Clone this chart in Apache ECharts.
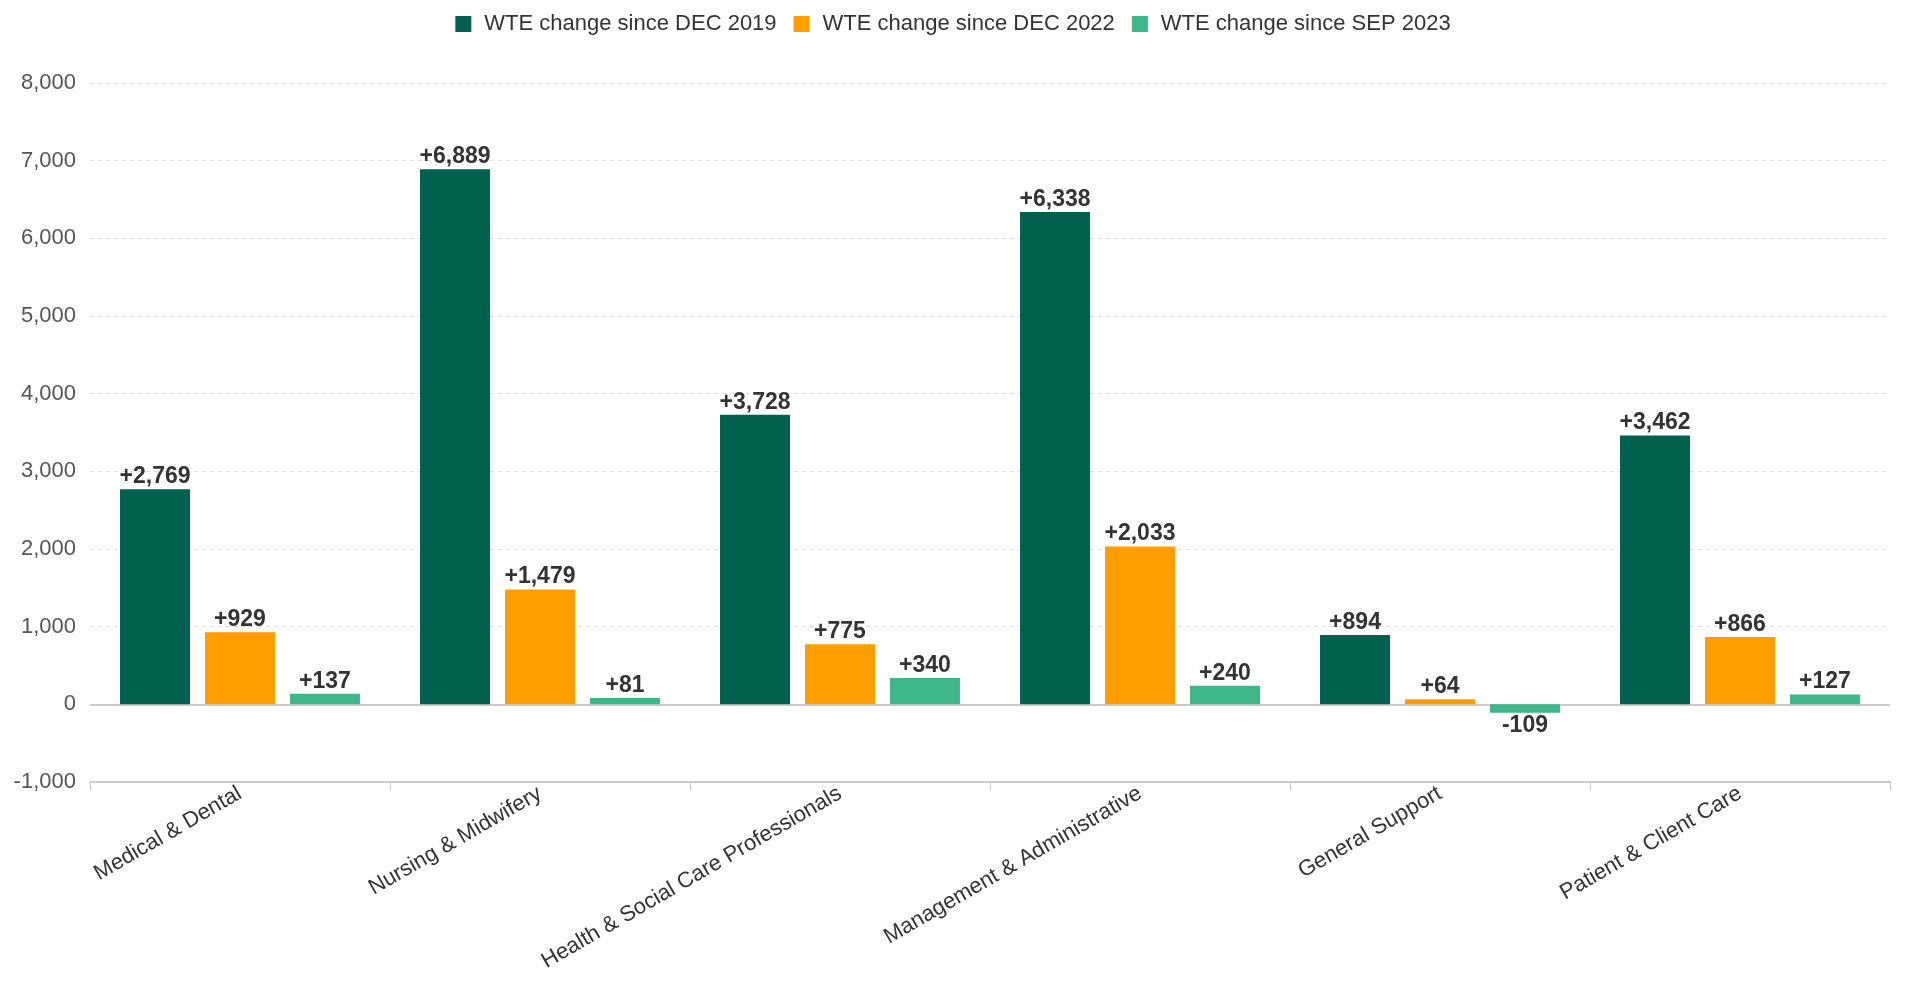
<!DOCTYPE html>
<html>
<head>
<meta charset="utf-8">
<script src="https://cdn.jsdelivr.net/npm/echarts@6/dist/echarts.min.js"></script>
<style>
html,body{margin:0;padding:0;background:#fff;}
#chart{width:1906px;height:983px;}
</style>
</head>
<body>
<div id="chart"></div>
<script>
const categories = ['Medical & Dental', 'Nursing & Midwifery', 'Health & Social Care Professionals', 'Management & Administrative', 'General Support', 'Patient & Client Care'];
const seriesNames = ['WTE change since DEC 2019', 'WTE change since DEC 2022', 'WTE change since SEP 2023'];
const sinceDec2019 = [2769, 6889, 3728, 6338, 894, 3462];
const sinceDec2022 = [929, 1479, 775, 2033, 64, 866];
const sinceSep2023 = [137, 81, 340, 240, -109, 127];
const colors = ['#02604f', '#ff9e00', '#3db68a'];

const FONT = '"Liberation Sans", Arial, sans-serif';
function fmt(v) {
  const s = Math.abs(v).toLocaleString('en-US');
  return (v > 0 ? '+' : (v < 0 ? '-' : '')) + s;
}

const chart = echarts.init(document.getElementById('chart'), null, {renderer: 'canvas'});
const valuesList = [sinceDec2019, sinceDec2022, sinceSep2023];
const series = valuesList.map((vals, i) => {
  const s = {
    name: seriesNames[i],
    type: 'bar',
    data: vals,
    barWidth: 70,
    barGap: '21.4%',
    itemStyle: {color: colors[i]},
    label: {
      show: true,
      position: 'outside',
      distance: 1,
      formatter: p => fmt(p.value),
      fontFamily: FONT,
      fontWeight: 'bold',
      fontSize: 23,
      color: '#333'
    },
    z: 3
  };
  if (i === 0) {
    s.markLine = {
      silent: true,
      symbol: 'none',
      label: {show: false},
      lineStyle: {color: '#cccccc', type: 'solid', width: 2},
      data: [{yAxis: 0}],
      z: 1
    };
  }
  return s;
});

chart.setOption({
  animation: false,
  color: colors,
  legend: {
    top: 8,
    left: 'center',
    icon: 'rect',
    itemWidth: 16,
    itemHeight: 16,
    itemGap: 17,
    textStyle: {fontFamily: FONT, fontSize: 22, color: '#333', padding: [0, 0, 0, 8]},
    data: seriesNames
  },
  grid: {left: 90, right: 16, top: 83, bottom: 201, containLabel: false},
  xAxis: {
    type: 'category',
    data: categories,
    axisLine: {onZero: false, lineStyle: {color: '#cccccc', width: 2}},
    axisTick: {show: true, alignWithLabel: false, length: 8, lineStyle: {color: '#cccccc', width: 1}},
    axisLabel: {
      rotate: 30,
      interval: 0,
      margin: 10,
      fontFamily: FONT,
      fontSize: 22,
      color: '#333'
    }
  },
  yAxis: {
    type: 'value',
    min: -1000,
    max: 8000,
    interval: 1000,
    axisLine: {show: false},
    axisTick: {show: false},
    axisLabel: {
      margin: 14,
      fontFamily: FONT,
      fontSize: 22,
      color: '#555',
      formatter: v => v.toLocaleString('en-US')
    },
    splitLine: {show: true, lineStyle: {color: '#dddddd', type: [4, 4], width: 1}}
  },
  series: series
});
</script>
</body>
</html>
